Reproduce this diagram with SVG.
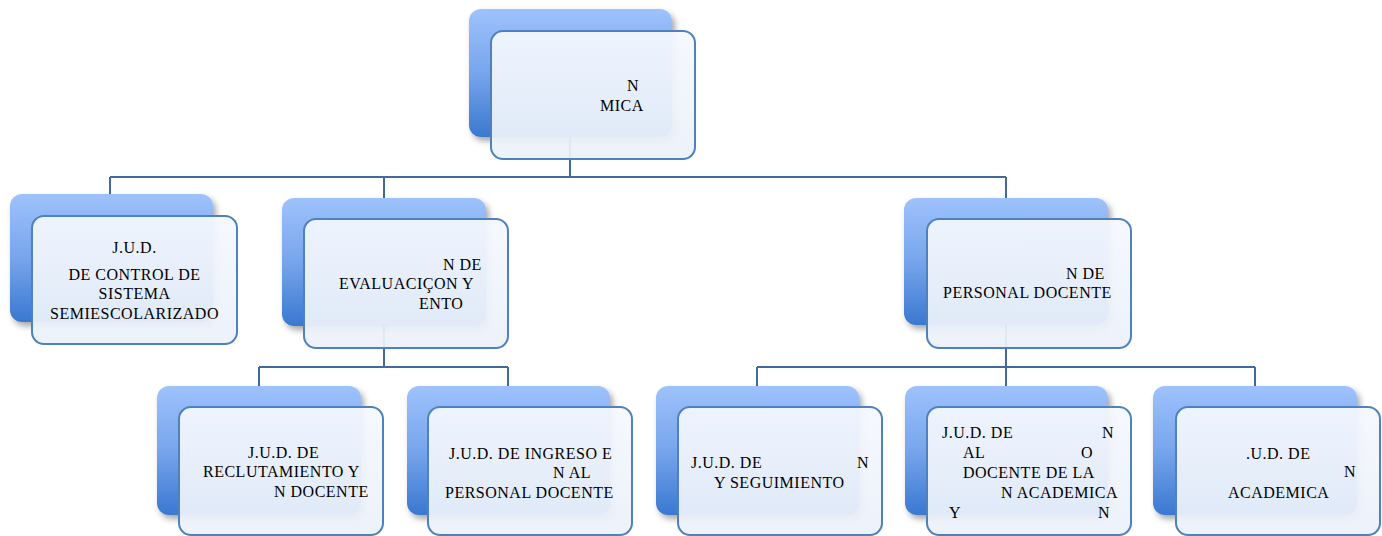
<svg xmlns="http://www.w3.org/2000/svg" width="1382" height="536" viewBox="0 0 1382 536">
<defs>
<linearGradient id="gb" x1="0" y1="0" x2="0" y2="1">
<stop offset="0" stop-color="#9ec2fc"/>
<stop offset="0.5" stop-color="#77a5ec"/>
<stop offset="1" stop-color="#3a78d0"/>
</linearGradient>
<linearGradient id="gf" x1="0" y1="0" x2="0" y2="1">
<stop offset="0" stop-color="#f5f8fe"/>
<stop offset="1" stop-color="#ebf1fa"/>
</linearGradient>
<filter id="sh" x="-10%" y="-10%" width="125%" height="130%">
<feDropShadow dx="3" dy="4" stdDeviation="3" flood-color="#000" flood-opacity="0.35"/>
</filter>
</defs>
<style>
.back{fill:url(#gb);filter:url(#sh)}
.front{fill:url(#gf);fill-opacity:0.93;stroke:#4f81bd;stroke-width:2}
.con{fill:none;stroke:#41699e;stroke-width:2}
text{font-family:"Liberation Serif","Times New Roman",serif;font-size:16px;letter-spacing:0.5px;fill:#000}
</style>
<g id="connectors">
<path class="con" d="M570 137V177M110 177H1006M110 177V194M384 177V198M1006 177V198"/>
<path class="con" d="M384 326V367M259 367H508M259 367V386M508 367V386"/>
<path class="con" d="M1006 325V367M757 367H1255M757 367V386M1006 367V386M1255 367V386"/>
</g>
<g id="n-top">
<rect class="back" x="469" y="9" width="203" height="128" rx="12"/>
<rect class="front" x="491" y="31" width="204" height="128" rx="12"/>
<text x="627" y="91">N</text>
<text x="600" y="111">MICA</text>
</g>
<g id="n-control">
<rect class="back" x="10" y="194" width="203" height="128" rx="12"/>
<rect class="front" x="32" y="216" width="205" height="128" rx="12"/>
<text x="134.5" y="253" text-anchor="middle">J.U.D.</text>
<text x="134.5" y="280" text-anchor="middle">DE CONTROL DE</text>
<text x="134.5" y="299" text-anchor="middle">SISTEMA</text>
<text x="134.5" y="319" text-anchor="middle">SEMIESCOLARIZADO</text>
</g>
<g id="n-evaluacion">
<rect class="back" x="282" y="198" width="204" height="128" rx="12"/>
<rect class="front" x="304" y="219" width="204" height="129" rx="12"/>
<text x="443" y="270">N DE</text>
<text x="339" y="289">EVALUACIÇON Y</text>
<text x="419" y="309">ENTO</text>
</g>
<g id="n-personal">
<rect class="back" x="904" y="198" width="204" height="127" rx="12"/>
<rect class="front" x="927" y="219" width="204" height="129" rx="12"/>
<text x="1066" y="279">N DE</text>
<text x="943" y="298">PERSONAL DOCENTE</text>
</g>
<g id="n-reclutamiento">
<rect class="back" x="157" y="386" width="204" height="129" rx="12"/>
<rect class="front" x="179" y="407" width="204" height="128" rx="12"/>
<text x="248" y="458">J.U.D. DE</text>
<text x="203" y="477">RECLUTAMIENTO Y</text>
<text x="274" y="497">N DOCENTE</text>
</g>
<g id="n-ingreso">
<rect class="back" x="407" y="386" width="203" height="129" rx="12"/>
<rect class="front" x="428" y="407" width="204" height="128" rx="12"/>
<text x="449" y="459">J.U.D. DE INGRESO E</text>
<text x="553" y="478">N AL</text>
<text x="445" y="498">PERSONAL DOCENTE</text>
</g>
<g id="n-seguimiento">
<rect class="back" x="656" y="386" width="203" height="129" rx="12"/>
<rect class="front" x="678" y="407" width="204" height="128" rx="12"/>
<text x="691" y="468">J.U.D. DE</text>
<text x="857" y="468">N</text>
<text x="714" y="488">Y SEGUIMIENTO</text>
</g>
<g id="n-docente-academica">
<rect class="back" x="905" y="386" width="203" height="129" rx="12"/>
<rect class="front" x="927" y="407" width="204" height="128" rx="12"/>
<text x="942" y="438">J.U.D. DE</text>
<text x="1102" y="438">N</text>
<text x="963" y="458">AL</text>
<text x="1081" y="458">O</text>
<text x="963" y="478">DOCENTE DE LA</text>
<text x="1001" y="498">N ACADEMICA</text>
<text x="949" y="518">Y</text>
<text x="1098" y="518">N</text>
</g>
<g id="n-academica">
<rect class="back" x="1153" y="386" width="204" height="129" rx="12"/>
<rect class="front" x="1176" y="407" width="204" height="128" rx="12"/>
<text x="1246" y="459">.U.D. DE</text>
<text x="1344" y="477">N</text>
<text x="1228" y="498">ACADEMICA</text>
</g>
</svg>
